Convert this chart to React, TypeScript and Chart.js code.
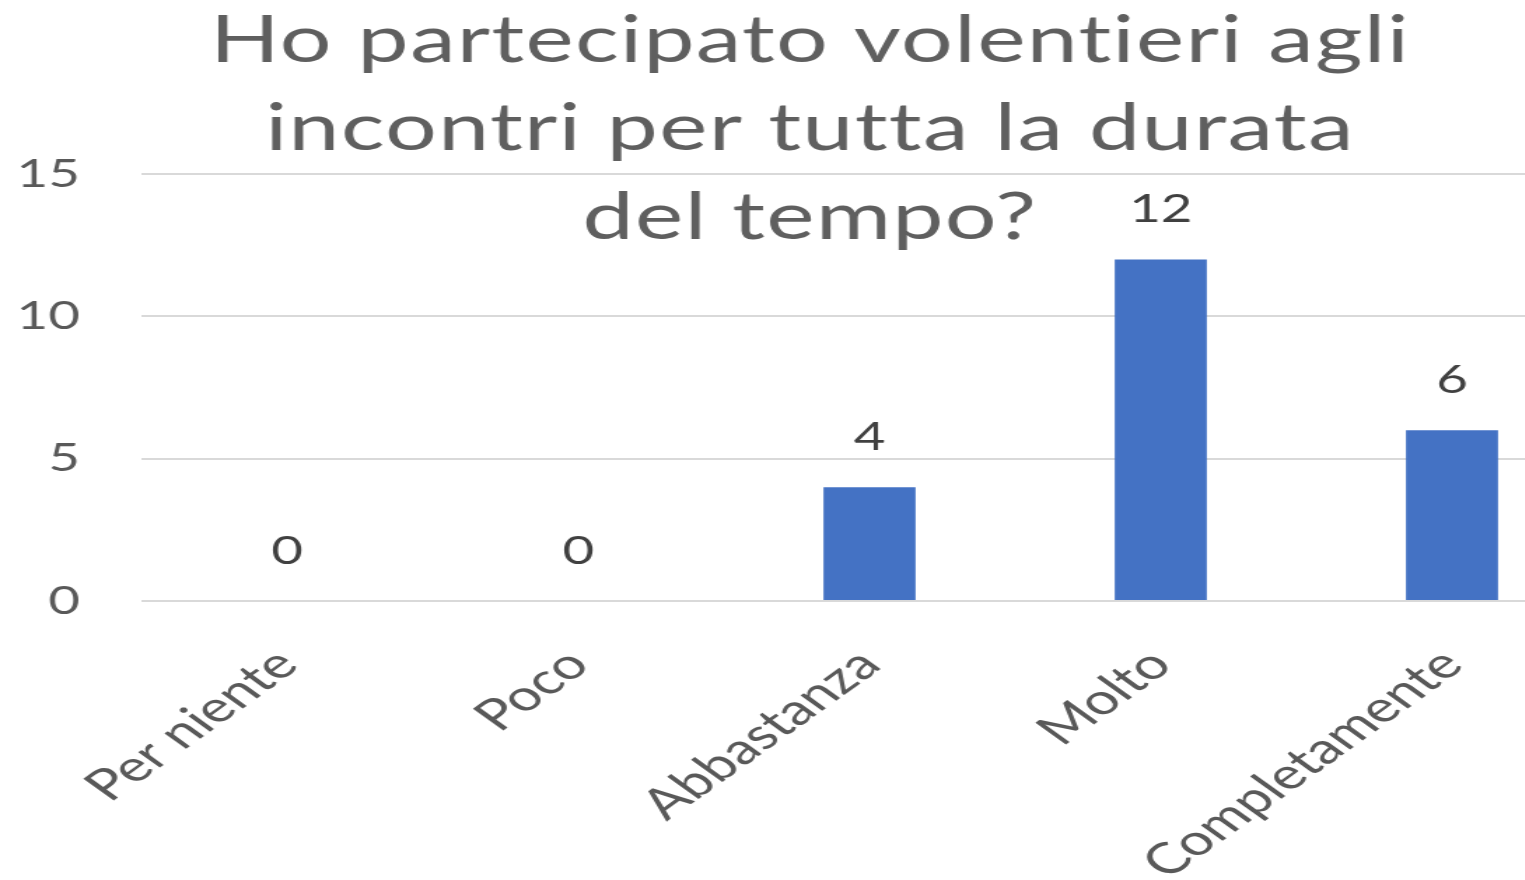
import React, { useEffect, useRef } from "react";
import { Chart, registerables } from "chart.js";

Chart.register(...registerables);

const titleLines = ["Ho partecipato volentieri agli", "incontri per tutta la durata", "del tempo?"];
const categories = ["Per niente", "Poco", "Abbastanza", "Molto", "Completamente"];
const values = [0, 0, 4, 12, 6];
const yTicks = [0, 5, 10, 15];

const STRETCH = 1.4;
const CANVAS_W = 1157;
const CANVAS_H = 880;
const TITLE_LINE1_CSS_WIDTH = 1200;

const titlePlugin = {
  id: "stretchedTitle",
  afterDraw(chart: any) {
    const ctx = chart.ctx;
    ctx.save();
    ctx.font = "400 65px Lato";
    if ("letterSpacing" in ctx) (ctx as any).letterSpacing = "1px";
    const w = ctx.measureText(titleLines[0]).width;
    const k = TITLE_LINE1_CSS_WIDTH / STRETCH / w;
    ctx.scale(k, 1);
    ctx.fillStyle = "#5f5f5f";
    ctx.textAlign = "center";
    ctx.textBaseline = "alphabetic";
    const cx = chart.width / 2 / k;
    const baselines = [62, 150, 239];
    titleLines.forEach((t, i) => ctx.fillText(t, cx, baselines[i]));
    ctx.restore();
  },
};

const valueLabelPlugin = {
  id: "valueLabels",
  afterDatasetsDraw(chart: any) {
    const ctx = chart.ctx;
    const meta = chart.getDatasetMeta(0);
    ctx.save();
    ctx.font = "39px Lato";
    ctx.fillStyle = "#404040";
    ctx.textAlign = "center";
    ctx.textBaseline = "alphabetic";
    meta.data.forEach((bar: any, i: number) => {
      ctx.fillText(String(values[i]), bar.x, bar.y - 37);
    });
    ctx.restore();
  },
};

export default function App() {
  const ref = useRef<HTMLCanvasElement | null>(null);
  useEffect(() => {
    if (!ref.current) return;
    const chart = new Chart(ref.current, {
      type: "bar",
      data: {
        labels: categories,
        datasets: [
          {
            data: values,
            backgroundColor: "#4472C4",
            borderWidth: 0,
            barPercentage: 0.316,
            categoryPercentage: 1,
          },
        ],
      },
      options: {
        responsive: false,
        animation: false,
        devicePixelRatio: 1,
        layout: { padding: { top: 174, right: 16, left: 0, bottom: 0 } },
        plugins: {
          legend: { display: false },
          title: { display: false },
          tooltip: { enabled: false },
        },
        scales: {
          x: {
            grid: { display: false, drawTicks: false },
            border: { display: false },
            ticks: {
              color: "#595959",
              font: { family: "Lato", size: 43 },
              minRotation: 45,
              maxRotation: 45,
              padding: 38,
              autoSkip: false,
            },
            afterFit: (s: any) => {
              s.height = 279;
            },
          },
          y: {
            min: 0,
            max: 15,
            afterBuildTicks: (s: any) => {
              s.ticks = yTicks.map((v) => ({ value: v }));
            },
            grid: { color: "#d9d9d9", lineWidth: 2, drawTicks: false },
            border: { display: false },
            ticks: {
              color: "#595959",
              font: { family: "Lato", size: 39 },
              padding: 44,
            },
            afterFit: (s: any) => {
              s.width = 101;
            },
          },
        },
      },
      plugins: [titlePlugin, valueLabelPlugin],
    });
    return () => chart.destroy();
  }, []);

  return (
    <div
      style={{
        position: "fixed",
        left: 0,
        top: 0,
        width: 1525,
        height: 880,
        overflow: "hidden",
        background: "#fff",
      }}
    >
      <canvas
        ref={ref}
        width={CANVAS_W}
        height={CANVAS_H}
        style={{ width: `${CANVAS_W * STRETCH}px`, height: `${CANVAS_H}px`, display: "block" }}
      />
    </div>
  );
}
